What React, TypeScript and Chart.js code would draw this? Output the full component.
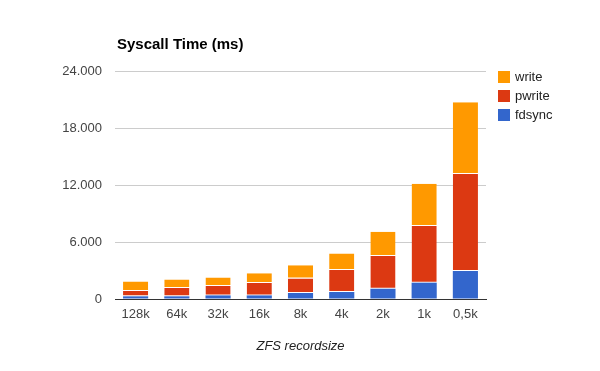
import React, { useEffect, useRef } from "react";
import { Chart, registerables } from "chart.js";

Chart.register(...registerables);

const categories = ["128k", "64k", "32k", "16k", "8k", "4k", "2k", "1k", "0,5k"];
const fdsyncValues = [280, 280, 380, 380, 630, 740, 1080, 1720, 2950];
const pwriteValues = [560, 880, 990, 1300, 1540, 2310, 3440, 5960, 10210];
const writeValues = [1010, 900, 900, 1020, 1370, 1750, 2560, 4460, 7540];
const yTicks = [0, 6000, 12000, 18000, 24000];
const chartTitle = "Syscall Time (ms)";
const xAxisTitle = "ZFS recordsize";

const FONT = "'Liberation Sans', Arial, sans-serif";

const fmt = (v: number) => String(Math.round(v)).replace(/\B(?=(\d{3})+(?!\d))/g, ".");

const decorPlugin = {
  id: "decor",
  afterDraw(chart: any) {
    const ctx = chart.ctx;
    ctx.save();
    ctx.font = `bold 15px ${FONT}`;
    ctx.fillStyle = "#000";
    ctx.textAlign = "left";
    ctx.textBaseline = "alphabetic";
    ctx.fillText(chartTitle, 117, 49);
    const ds = chart.data.datasets.slice().reverse();
    ds.forEach((d: any, i: number) => {
      const cy = 77 + i * 19;
      ctx.fillStyle = d.backgroundColor;
      ctx.fillRect(498, cy - 6, 12, 12);
      ctx.fillStyle = "#222";
      ctx.font = `13px ${FONT}`;
      ctx.textBaseline = "middle";
      ctx.fillText(d.label, 515, cy);
    });
    ctx.restore();
  },
};

export default function App() {
  const ref = useRef<HTMLCanvasElement>(null);
  useEffect(() => {
    if (!ref.current) return;
    const upper = { top: 0, bottom: 1, left: 0, right: 0 };
    const chart = new Chart(ref.current, {
      type: "bar",
      data: {
        labels: categories,
        datasets: [
          { label: "fdsync", data: fdsyncValues, backgroundColor: "#3366CC", borderWidth: 0 },
          { label: "pwrite", data: pwriteValues, backgroundColor: "#DC3912", borderColor: "#ffffff", borderWidth: upper, borderSkipped: false },
          { label: "write", data: writeValues, backgroundColor: "#FF9900", borderColor: "#ffffff", borderWidth: upper, borderSkipped: false },
        ],
      },
      options: {
        responsive: false,
        animation: false,
        layout: { padding: { top: 71, right: 114, bottom: 0, left: 0 } },
        datasets: { bar: { barPercentage: 0.61, categoryPercentage: 1 } },
        plugins: { legend: { display: false }, title: { display: false }, tooltip: { enabled: false } },
        scales: {
          x: {
            stacked: true,
            grid: { display: false, drawTicks: false },
            border: { display: true, color: "#333", width: 1 },
            ticks: { color: "#444", font: { family: FONT, size: 13 }, padding: 8, maxRotation: 0 },
            title: { display: true, text: xAxisTitle, color: "#222", font: { family: FONT, size: 13, style: "italic" }, padding: { top: 0, bottom: 17 } },
            afterFit: (s: any) => { s.height = 72; },
          },
          y: {
            stacked: true,
            min: 0,
            max: 24000,
            grid: { color: "#cccccc", drawTicks: false, lineWidth: 1 },
            border: { display: false },
            ticks: { color: "#444", font: { family: FONT, size: 13 }, padding: 13, callback: (v: any) => fmt(Number(v)) },
            afterBuildTicks: (s: any) => { s.ticks = yTicks.map((v) => ({ value: v })); },
            afterFit: (s: any) => { s.width = 115; },
          },
        },
      },
      plugins: [decorPlugin],
    } as any);
    return () => chart.destroy();
  }, []);
  return (
    <div style={{ position: "fixed", left: 0, top: 0, width: 600, height: 371, background: "#fff" }}>
      <canvas ref={ref} width={600} height={371} />
    </div>
  );
}
